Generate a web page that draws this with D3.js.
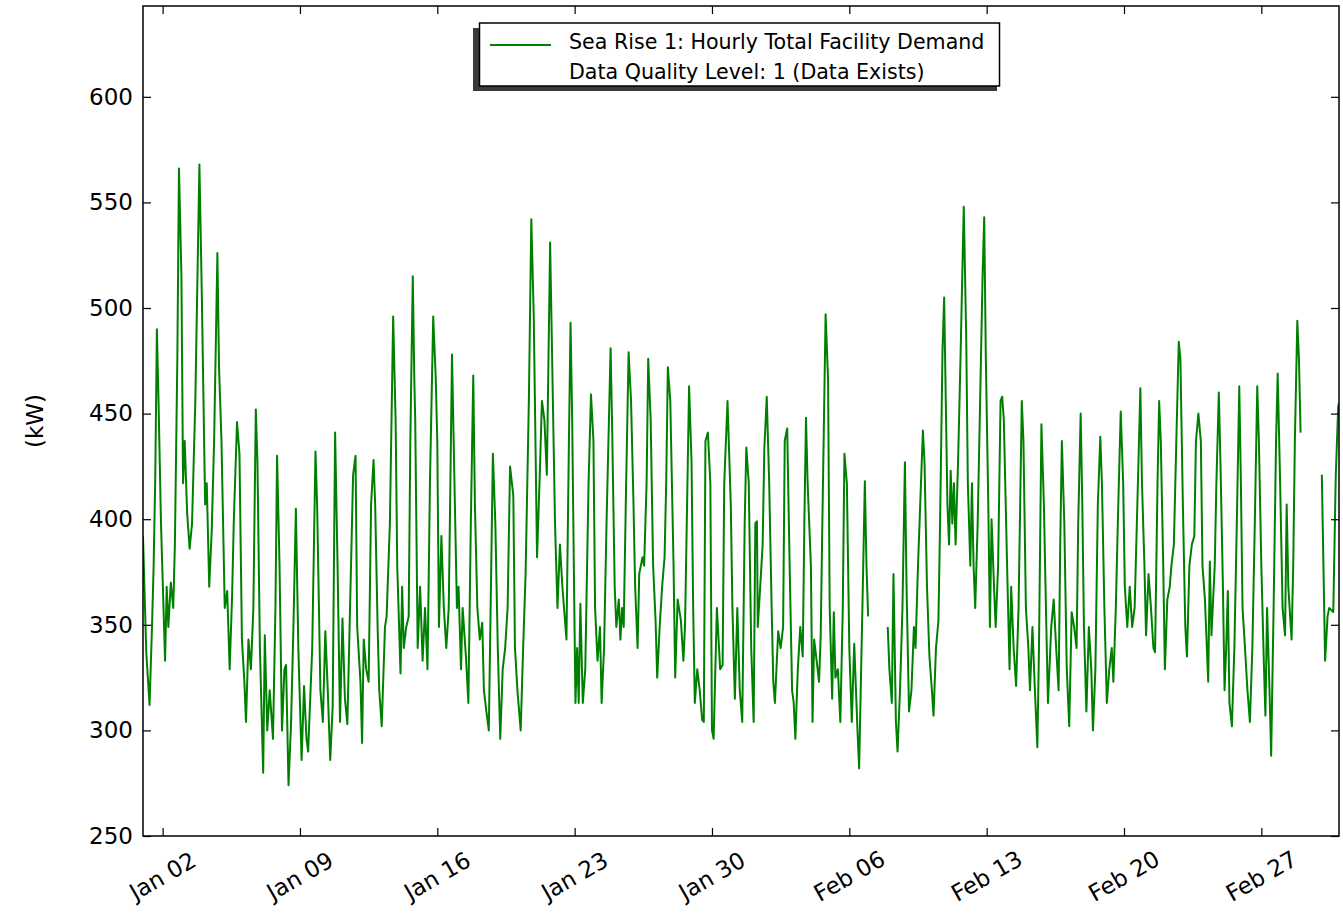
<!DOCTYPE html>
<html>
<head>
<meta charset="utf-8">
<script src="https://cdn.jsdelivr.net/npm/d3@7"></script>
<style>
  html, body { margin: 0; padding: 0; background: #ffffff; }
  svg { display: block; }
  text { font-family: "DejaVu Sans", "Liberation Sans", sans-serif; fill: #000; }
</style>
</head>
<body>
<svg id="chart" width="1343" height="915"></svg>
<script>
// ---------------- data ----------------
const seriesStart = "2016-01-01T00:00:00Z";
const seriesEnd   = "2016-03-01T23:00:00Z";

const xTickDates = ["2016-01-02", "2016-01-09", "2016-01-16", "2016-01-23", "2016-01-30",
                    "2016-02-06", "2016-02-13", "2016-02-20", "2016-02-27"];
const yTicks = [250, 300, 350, 400, 450, 500, 550, 600];

const legendLines = ["Sea Rise 1: Hourly Total Facility Demand", "Data Quality Level: 1 (Data Exists)"];
const yLabel = "(kW)";

// hours since series start, and demand (null = missing data)
const hourOffsets = [
  0,4,8,11,13,15,17,19,22,27,29,31,34,37,39,42,44,47,49,51,54,57,60,64,69,72,76,78,81,84,87,91,93,96,
  100,103,106,109,111,115,118,121,124,126,129,132,135,138,140,143,147,149,152,155,159,162,164,167,170,
  173,175,178,181,184,187,190,194,197,200,202,207,211,213,217,220,223,226,229,232,235,238,241,244,247,250,
  257,260,262,266,268,270,273,276,279,282,284,287,289,292,296,298,302,306,309,311,315,317,319,322,325,327,
  330,332,333,336,339,342,345,348,351,355,358,360,362,365,368,371,374,376,378,381,384,386,389,391,395,398,
  401,404,406,409,412,415,417,420,423,426,428,431,434,437,440,443,446,449,453,455,458,462,465,468,472,475,
  478,482,485,488,491,494,498,
  504,507,510,513,515,518,521,523,525,527,529,531,533,535,538,541,545,548,551,553,556,559,561,564,567,572,
  574,577,579,582,584,586,588,591,594,597,600,602,605,607,611,613,616,618,621,624,627,629,632,635,638,640,
  642,645,649,651,654,658,661,663,666,668,671,673,675,678,681,684,686,688,691,694,696,698,702,706,709,711,
  715,719,721,724,727,730,733,736,738,741,744,747,749,751,752,755,758,760,763,766,769,771,773,777,780,783,
  785,788,791,794,796,798,801,804,807,809,811,813,817,819,821,824,827,829,831,835,838,840,843,845,847,850,
  853,856,858,861,864,867,870,874,876,880,883,885,887,
  898,
  911,913,916,918,921,923,926,929,932,934,937,940,943,945,948,954,956,959,962,965,967,970,973,975,978,980,
  982,984,986,988,990,992,994,997,1000,1004,1007,1009,1012,1014,1016,1018,1021,1024,1027,1029,1031,1034,
  1036,1038,1041,1043,1046,1049,1051,1053,1057,1060,1062,1065,1068,1071,1075,1077,1080,1083,1085,1088,1091,
  1094,1096,1099,1102,1105,1107,1111,1114,1117,1120,1122,1124,1127,1130,1133,1136,1139,1142,1144,1147,1149,
  1151,1154,1157,1160,1162,1165,1168,1171,1173,1176,1179,1182,1185,1187,1190,1193,1196,1199,1201,1204,1207,
  1210,1213,1217,1220,1222,1225,1227,1230,1233,1236,1238,1241,1243,1245,1248,1250,1253,1256,1258,1261,1264,
  1267,1269,1272,1275,1277,1280,1283,1286,1288,1291,1294,1296,1299,1303,1305,1307,1311,1313,1316,1318,1321,
  1323,1325,1327,1329,1332,1335,1338,1341,1343,1345,1348,1351,1354,1357,1360,1363,1365,1368,1371,1373,1375,
  1378,1380,1383,1386,1388,1391,1394,1397,1399,1401,1405,1407,1409,1412,1414,1416,
  1428,
  1442,1446,1449,1451,1456,1459,1462,1463
];

const demandKW = [
  392,337,312,349,378,420,490,456,398,333,368,349,370,358,388,476,566,515,417,437,403,386,398,456,568,505,407,417,368,394,437,526,472,437,
  358,366,329,364,398,446,431,343,323,304,343,329,358,452,427,339,280,345,300,319,296,358,430,378,300,
  329,331,274,302,349,405,339,286,321,296,290,339,432,407,319,304,347,319,286,311,441,378,304,353,315,303,
  421,430,349,323,294,343,329,323,407,428,407,349,319,302,349,354,398,496,447,378,327,368,339,349,354,437,
  515,464,447,339,368,333,358,329,417,496,468,437,349,392,358,339,358,417,478,417,358,368,329,358,335,313,
  398,468,407,358,343,351,319,309,300,378,431,398,339,296,329,339,358,425,411,339,319,300,339,374,456,542,
  496,382,417,456,447,421,531,
  398,358,388,368,358,343,437,493,447,378,313,339,313,360,313,329,417,459,437,358,333,349,313,339,398,481,
  441,368,349,362,343,358,349,417,479,456,407,368,339,374,382,378,417,476,447,378,352,325,349,368,382,417,
  472,456,378,325,362,352,333,349,417,463,427,358,313,329,319,305,304,437,441,417,300,296,358,329,331,417,
  456,407,358,315,358,319,304,398,434,417,339,304,398,399,349,368,388,433,458,417,358,323,313,347,339,349,
  437,443,378,319,313,296,329,349,335,398,448,417,378,304,343,333,323,345,398,497,466,358,315,356,325,329,
  304,358,431,417,339,304,341,300,282,358,418,378,354,
  null,
  349,329,313,374,304,290,319,358,427,368,309,319,349,339,378,442,427,368,335,319,307,339,352,398,480,505,
  456,407,388,423,398,417,388,427,476,548,486,417,378,417,378,358,398,456,515,543,476,407,
  349,400,368,349,378,456,458,447,378,329,368,339,321,358,456,437,358,339,319,349,319,
  292,339,445,407,349,313,349,362,339,319,388,437,398,329,302,356,349,339,398,450,407,
  349,309,349,329,300,329,407,439,417,358,313,329,339,323,358,407,451,417,368,349,368,
  349,358,417,462,417,378,345,374,358,339,337,417,456,437,378,329,362,368,378,388,437,
  484,476,407,349,335,378,388,392,437,450,437,378,362,323,380,345,378,417,460,427,368,
  319,339,366,313,302,339,398,463,417,358,339,319,304,339,398,463,437,378,333,307,358,
  319,288,358,437,469,417,358,345,407,368,343,378,437,494,476,441,
  null,
  421,333,354,358,356,420,453,455
];

// ---------------- layout ----------------
const plot = { left: 143, right: 1339, top: 6, bottom: 836 };
const fontFamily = '"DejaVu Sans", "Liberation Sans", sans-serif';

const svg = d3.select("#chart");

const x = d3.scaleUtc()
  .domain([new Date(seriesStart), new Date(seriesEnd)])
  .range([plot.left, plot.right]);

const y = d3.scaleLinear()
  .domain([250, 643])
  .range([plot.bottom, plot.top]);

const t0 = new Date(seriesStart).getTime();
const points = hourOffsets.map((h, i) => ({ date: new Date(t0 + h * 3600e3), v: demandKW[i] }));

// clip
svg.append("defs").append("clipPath").attr("id", "clip")
  .append("rect")
  .attr("x", plot.left).attr("y", plot.top)
  .attr("width", plot.right - plot.left).attr("height", plot.bottom - plot.top);

// data line
const line = d3.line()
  .defined(d => d.v !== null)
  .x(d => x(d.date))
  .y(d => y(d.v));

svg.append("path")
  .datum(points)
  .attr("clip-path", "url(#clip)")
  .attr("fill", "none")
  .attr("stroke", "#008000")
  .attr("stroke-width", 2)
  .attr("stroke-linejoin", "round")
  .attr("d", line);

// axes (ticks pointing inward on all four sides)
const xTickVals = xTickDates.map(s => new Date(s + "T00:00:00Z"));
const tickLen = 8;

svg.append("g")
  .attr("transform", `translate(0,${plot.bottom})`)
  .call(d3.axisBottom(x).tickValues(xTickVals).tickSize(-tickLen).tickFormat(""))
  .call(g => g.select(".domain").remove());

svg.append("g")
  .attr("transform", `translate(0,${plot.top})`)
  .call(d3.axisTop(x).tickValues(xTickVals).tickSize(-tickLen).tickFormat(""))
  .call(g => g.select(".domain").remove());

const yAxisL = svg.append("g")
  .attr("transform", `translate(${plot.left},0)`)
  .call(d3.axisLeft(y).tickValues(yTicks).tickSize(-tickLen).tickPadding(10).tickFormat(d3.format("d")))
  .call(g => g.select(".domain").remove());
yAxisL.selectAll("text")
  .attr("font-family", fontFamily)
  .attr("font-size", 23)
  .attr("fill", "#000");

svg.append("g")
  .attr("transform", `translate(${plot.right},0)`)
  .call(d3.axisRight(y).tickValues(yTicks).tickSize(-tickLen).tickFormat(""))
  .call(g => g.select(".domain").remove());

svg.selectAll(".tick line").attr("stroke", "#000").attr("stroke-width", 1.2);

// frame
svg.append("rect")
  .attr("x", plot.left).attr("y", plot.top)
  .attr("width", plot.right - plot.left).attr("height", plot.bottom - plot.top)
  .attr("fill", "none").attr("stroke", "#000").attr("stroke-width", 1.5);

// rotated x tick labels
const fmt = d3.utcFormat("%b %d");
svg.append("g").selectAll("text")
  .data(xTickVals)
  .join("text")
  .attr("transform", d => `translate(${x(d)},${plot.bottom + 40}) rotate(-30)`)
  .attr("text-anchor", "middle")
  .attr("dy", "0.35em")
  .attr("font-size", 23)
  .attr("font-family", fontFamily)
  .text(d => fmt(d));

// y axis label
svg.append("text")
  .attr("transform", `translate(35,${(plot.top + plot.bottom) / 2}) rotate(-90)`)
  .attr("text-anchor", "middle")
  .attr("dy", "0.35em")
  .attr("font-size", 23)
  .attr("font-family", fontFamily)
  .text(yLabel);

// legend
const lg = svg.append("g");
lg.append("rect")
  .attr("x", 473).attr("y", 28).attr("width", 524).attr("height", 63)
  .attr("fill", "#3a3a3a");
lg.append("rect")
  .attr("x", 479.5).attr("y", 23).attr("width", 520).attr("height", 63)
  .attr("fill", "#fff").attr("stroke", "#000").attr("stroke-width", 1.5);
lg.append("line")
  .attr("x1", 490).attr("x2", 551).attr("y1", 45).attr("y2", 45)
  .attr("stroke", "#008000").attr("stroke-width", 2);
lg.selectAll("text.leg")
  .data(legendLines)
  .join("text")
  .attr("class", "leg")
  .attr("x", 569)
  .attr("y", (d, i) => 42 + i * 30)
  .attr("dy", "0.35em")
  .attr("font-size", 20.6)
  .attr("font-family", fontFamily)
  .text(d => d);
</script>
</body>
</html>
